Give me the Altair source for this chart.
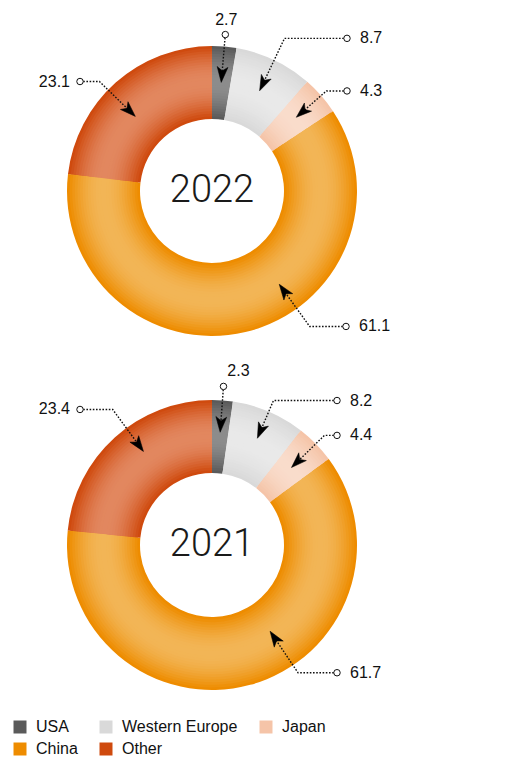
import math
import altair as alt
import pandas as pd

# ---------------- data ----------------
CATEGORIES = ["USA", "Western Europe", "Japan", "China", "Other"]
YEARS = ["2022", "2021"]
SHARE_2022 = [2.7, 8.7, 4.3, 61.1, 23.1]
SHARE_2021 = [2.3, 8.2, 4.4, 61.7, 23.4]
SHARES = {"2022": SHARE_2022, "2021": SHARE_2021}

# ---------------- style / layout ----------------
LEGEND_COLORS = ["#5a5a5a", "#d9d9d9", "#f5c4a8", "#ee8c00", "#cf4a0e"]
CENTER_COLORS = ["#8c8c8c", "#e9e9e9", "#f9dccb", "#f2b556", "#e2875f"]

W, H = 495, 700
CX = 204
CY = {"2022": 183, "2021": 537}
R_OUT, R_IN = 145, 72
N_BANDS = 14

# per slice: (position within slice, tip radius, elbow radius, circle dx or None)
ANNOT = {
    "2022": [(0.5, 109, 157, None), (0.5, 111, 169, 135), (0.5, 112, 152, 135),
             (0.398, 115, 167, 134), (0.45, 107, 157, -132)],
    "2021": [(0.5, 113, 159, None), (0.5, 116, 157, 125), (0.5, 111, 157, 125),
             (0.416, 104, 154, 125), (0.57, 116, 168, -132)],
}
TOP_LABEL_DX = {"2022": 1, "2021": 15}

FONT = "Liberation Sans"
ARROW = "M0,-1L0.7,1L0,0.5L-0.7,1Z"
ARROW_SIZE = 240


def mix(c1, c2, t):
    a = [int(c1[i:i + 2], 16) for i in (1, 3, 5)]
    b = [int(c2[i:i + 2], 16) for i in (1, 3, 5)]
    return "#" + "".join(f"{round(x + (y - x) * t):02x}" for x, y in zip(a, b))


xs = alt.Scale(domain=[0, W], nice=False, zero=False)
ys = alt.Scale(domain=[0, H], nice=False, zero=False, reverse=True)


def X(f):
    return alt.X(f, type="quantitative", scale=xs, axis=None)


def Y(f):
    return alt.Y(f, type="quantitative", scale=ys, axis=None)


legend = alt.Legend(
    orient="none", legendX=4, legendY=711, columns=3, direction="horizontal",
    title=None, symbolType="square", symbolSize=169, symbolStrokeWidth=0,
    labelFontSize=16, labelFont=FONT, labelColor="#111111",
    columnPadding=20, rowPadding=6, labelOffset=8,
)

layers = []
d = (R_OUT - R_IN) / (2 * N_BANDS)
for year in YEARS:
    base = pd.DataFrame({
        "category": CATEGORIES,
        "share": SHARES[year],
        "idx": list(range(len(CATEGORIES))),
        "cx": CX,
        "cy": CY[year],
    })
    for k in range(N_BANDS):
        t = math.sin(math.pi / 2 * k / (N_BANDS - 1))
        df = base.copy()
        df["fill"] = [mix(e, c, t) for e, c in zip(LEGEND_COLORS, CENTER_COLORS)]
        if k == 0:
            color = alt.Color("category:N",
                              scale=alt.Scale(domain=CATEGORIES, range=LEGEND_COLORS),
                              legend=legend)
        else:
            color = alt.Color("fill:N", scale=None)
        layers.append(
            alt.Chart(df).mark_arc(radius=R_OUT - k * d, radius2=R_IN + k * d).encode(
                x=X("cx"), y=Y("cy"),
                theta=alt.Theta("share:Q", stack=True),
                order=alt.Order("idx:Q"),
                color=color,
            )
        )

# ---------------- annotations ----------------
line_rows, circ_rows, arrow_rows, label_rows, year_rows = [], [], [], [], []
half = math.sqrt(ARROW_SIZE) / 2
for year in YEARS:
    vals = SHARES[year]
    total = sum(vals)
    cum = 0.0
    cy = CY[year]

    def pt(a, r):
        return CX + r * math.sin(math.radians(a)), cy - r * math.cos(math.radians(a))

    for i, (cat, v) in enumerate(zip(CATEGORIES, vals)):
        a0 = cum / total * 360
        a1 = (cum + v) / total * 360
        cum += v
        frac, rt, re, dx = ANNOT[year][i]
        a = a0 + frac * (a1 - a0)
        key = f"{year}-{cat}"
        end = pt(a, rt + 9)
        elbow = pt(a, re)
        arrow_c = pt(a, rt + half)
        if dx is None:
            circle = elbow
            path = [circle, end]
            label_rows.append({"x": circle[0] + TOP_LABEL_DX[year], "y": circle[1] - 15,
                               "t": f"{v}", "al": "center"})
        else:
            circle = (CX + dx, elbow[1])
            path = [circle, elbow, end]
            if dx > 0:
                label_rows.append({"x": circle[0] + 13, "y": circle[1], "t": f"{v}", "al": "left"})
            else:
                label_rows.append({"x": circle[0] - 10, "y": circle[1], "t": f"{v}", "al": "right"})
        for s, (px, py) in enumerate(path):
            line_rows.append({"key": key, "seq": s, "x": px, "y": py})
        circ_rows.append({"x": circle[0], "y": circle[1]})
        arrow_rows.append({"x": arrow_c[0], "y": arrow_c[1], "ang": (a + 180) % 360})
    year_rows.append({"x": CX, "y": cy, "t": year})

lines = alt.Chart(pd.DataFrame(line_rows)).mark_line(
    color="#111111", strokeDash=[1.6, 1.6], strokeWidth=1.4
).encode(x=X("x"), y=Y("y"), detail="key:N", order="seq:Q")

arrows = alt.Chart(pd.DataFrame(arrow_rows)).mark_point(
    shape=ARROW, filled=True, fill="#000000", stroke="#000000", strokeWidth=0.5,
    size=ARROW_SIZE, opacity=1
).encode(x=X("x"), y=Y("y"), angle=alt.Angle("ang:Q", scale=None))

circles = alt.Chart(pd.DataFrame(circ_rows)).mark_point(
    shape="circle", filled=True, fill="white", stroke="#111111", strokeWidth=1,
    size=42, opacity=1
).encode(x=X("x"), y=Y("y"))

lab_df = pd.DataFrame(label_rows)
text_layers = []
for al in ["left", "right", "center"]:
    text_layers.append(
        alt.Chart(lab_df[lab_df["al"] == al]).mark_text(
            align=al, baseline="middle", font=FONT, fontSize=16, color="#111111"
        ).encode(x=X("x"), y=Y("y"), text="t:N")
    )

years_txt = alt.Chart(pd.DataFrame(year_rows)).mark_text(
    align="center", baseline="middle", font="Roboto", fontWeight=300,
    fontSize=38, color="#1a1a1a"
).encode(x=X("x"), y=Y("y"), text="t:N")

chart = alt.layer(*layers, lines, arrows, circles, *text_layers, years_txt).resolve_scale(
    theta="independent"
).properties(width=W, height=H, padding=0).configure(
    background="white"
).configure_view(strokeWidth=0, stroke="transparent")

chart.save("out.html", embed_options={"renderer": "svg", "actions": False})
